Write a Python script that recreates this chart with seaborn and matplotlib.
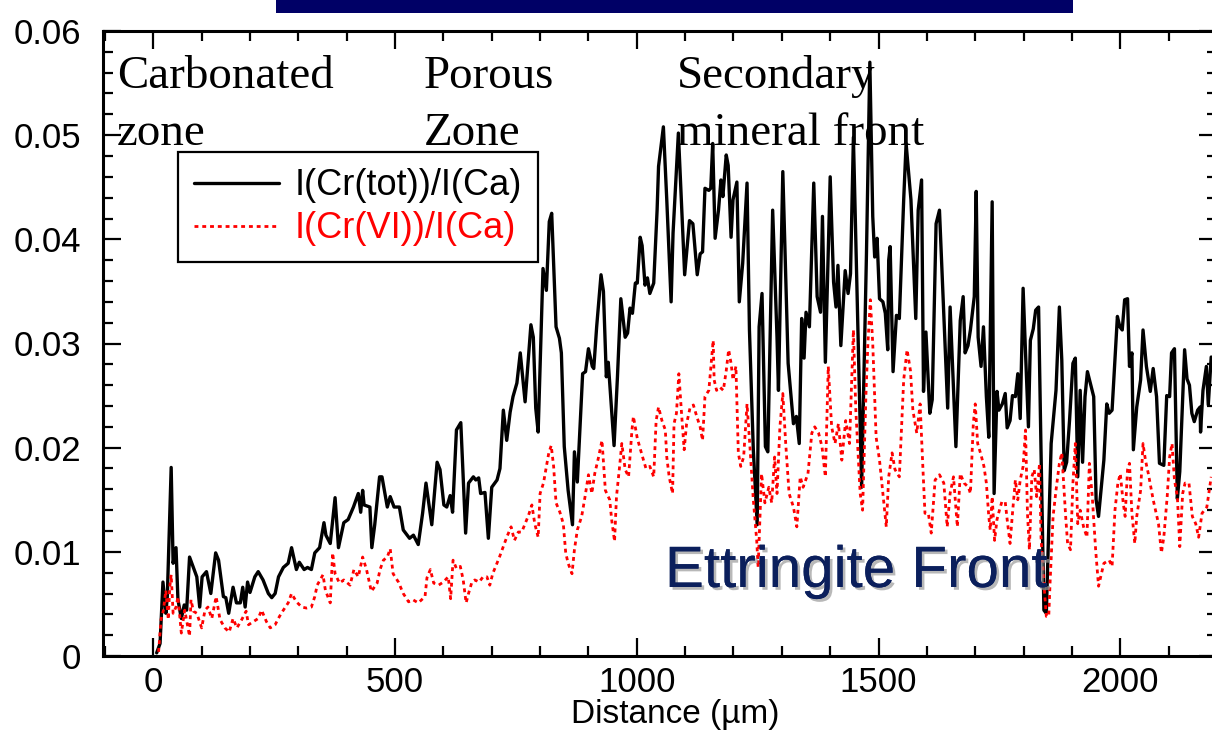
import matplotlib
matplotlib.use("Agg")
import matplotlib.pyplot as plt
import matplotlib.patheffects as pe
from matplotlib.patches import Rectangle
from matplotlib.ticker import MultipleLocator, FuncFormatter
import seaborn as sns
import pandas as pd

# ---------------- data ----------------
cr_tot_x = [7, 14, 20, 26, 29, 37, 41, 47, 51, 58, 64, 69, 75, 83, 90, 96, 101, 110,
            119, 129, 135, 145, 150, 156, 165, 172, 180, 185, 190, 195, 200, 210, 217, 227,
            238, 245, 252, 259, 269, 279, 286, 296, 302, 312, 319, 327, 334, 344,
            353, 357, 366, 376, 383, 394, 403, 414, 424, 429, 433, 436, 448, 452, 458,
            468, 473, 484, 490, 498, 509, 517, 530, 538, 548, 557, 564, 576, 587,
            593, 601, 607, 614, 619, 627, 636, 646, 652, 662, 667, 673, 677, 686, 693, 700,
            711, 717, 724, 731, 738, 744, 752, 759, 769, 781, 786, 791, 796, 806, 809,
            813, 819, 824, 833, 840, 844, 850, 858, 867, 871, 877, 888, 894, 900, 908, 911,
            917, 926, 931, 937, 941, 953, 960, 967, 976, 981, 986, 991, 997, 1001, 1007, 1011,
            1017, 1022, 1027, 1035, 1042, 1045, 1055, 1062, 1071, 1075, 1086, 1099, 1109, 1116,
            1125, 1131, 1136, 1141, 1149, 1153, 1157, 1162, 1169, 1174, 1178, 1185, 1189, 1195,
            1199, 1207, 1212, 1219, 1228, 1233, 1241, 1249, 1253, 1259, 1266, 1271, 1281, 1290,
            1293, 1302, 1313, 1324, 1330, 1336, 1341, 1346, 1350, 1357, 1366, 1373, 1380, 1384,
            1390, 1400, 1407, 1412, 1416, 1422, 1431, 1437, 1442, 1448, 1465, 1475, 1482, 1488,
            1492, 1497, 1502, 1509, 1514, 1519, 1521, 1524, 1530, 1537, 1543, 1552, 1557, 1567,
            1577, 1582, 1589, 1593, 1598, 1606, 1611, 1619, 1626, 1643, 1648, 1660, 1669, 1675,
            1679, 1685, 1690, 1698, 1702, 1706, 1712, 1717, 1723, 1728, 1735, 1739, 1745, 1749,
            1756, 1762, 1766, 1772, 1777, 1783, 1788, 1793, 1799, 1804, 1810, 1814, 1820, 1825,
            1831, 1836, 1842, 1847, 1857, 1867, 1874, 1879, 1884, 1889, 1895, 1902, 1907, 1912,
            1917, 1922, 1927, 1932, 1945, 1950, 1955, 1966, 1972, 1977, 1983, 1994, 1999, 2004,
            2009, 2015, 2019, 2024, 2027, 2034, 2042, 2047, 2054, 2062, 2068, 2075, 2081, 2090,
            2096, 2102, 2106, 2112, 2118, 2123, 2133, 2138, 2143, 2148, 2153, 2160, 2165, 2166,
            2171, 2178, 2182, 2188]
cr_tot_y = [0.0003, 0.0012, 0.0071, 0.0041, 0.0057, 0.0181, 0.0089, 0.0104, 0.0054, 0.0036,
            0.0049, 0.0044, 0.0095, 0.0085, 0.0076, 0.0047, 0.0076, 0.0081,
            0.0060, 0.0099, 0.0092, 0.0057, 0.0056, 0.0041, 0.0066, 0.0051, 0.0051, 0.0066,
            0.0047, 0.0071, 0.0061, 0.0076, 0.0081, 0.0073,
            0.0060, 0.0056, 0.0060, 0.0076, 0.0085, 0.0089, 0.0104, 0.0083, 0.0090, 0.0083,
            0.0085, 0.0083, 0.0099, 0.0104,
            0.0128, 0.0116, 0.0108, 0.0152, 0.0104, 0.0128, 0.0131, 0.0143, 0.0156, 0.0138,
            0.0159, 0.0145, 0.0143, 0.0104, 0.0126,
            0.0172, 0.0172, 0.0143, 0.0153, 0.0143, 0.0143, 0.0121, 0.0113, 0.0116, 0.0107,
            0.0137, 0.0166, 0.0126, 0.0186,
            0.0179, 0.0145, 0.0143, 0.0154, 0.0138, 0.0217, 0.0224, 0.0118, 0.0166, 0.0172,
            0.0169, 0.0171, 0.0156, 0.0157, 0.0113, 0.0162,
            0.0169, 0.0180, 0.0236, 0.0207, 0.0234, 0.0249, 0.0262, 0.0291, 0.0244, 0.0318,
            0.0306, 0.0238, 0.0215, 0.0372, 0.0363,
            0.0351, 0.0417, 0.0425, 0.0316, 0.0305, 0.0291, 0.0201, 0.0159, 0.0126, 0.0196,
            0.0167, 0.0271, 0.0273, 0.0295, 0.0278, 0.0276,
            0.0316, 0.0366, 0.0350, 0.0268, 0.0282, 0.0202, 0.0268, 0.0343, 0.0306, 0.0310,
            0.0334, 0.0329, 0.0358, 0.0358, 0.0402, 0.0394,
            0.0356, 0.0363, 0.0348, 0.0358, 0.0428, 0.0470, 0.0508, 0.0438, 0.0340, 0.0406,
            0.0502, 0.0366, 0.0418, 0.0415,
            0.0366, 0.0386, 0.0388, 0.0449, 0.0447, 0.0449, 0.0492, 0.0401, 0.0428, 0.0457,
            0.0441, 0.0481, 0.0471, 0.0402,
            0.0438, 0.0455, 0.0340, 0.0377, 0.0454, 0.0313, 0.0198, 0.0126, 0.0316, 0.0348,
            0.0201, 0.0196, 0.0428, 0.0306,
            0.0255, 0.0465, 0.0281, 0.0223, 0.0230, 0.0204, 0.0324, 0.0286, 0.0330, 0.0316,
            0.0454, 0.0345, 0.0330, 0.0422,
            0.0282, 0.0460, 0.0359, 0.0335, 0.0375, 0.0298, 0.0370, 0.0348, 0.0367, 0.0498,
            0.0162, 0.0386, 0.0570, 0.0422,
            0.0383, 0.0401, 0.0343, 0.0340, 0.0329, 0.0294, 0.0380, 0.0393, 0.0273, 0.0327,
            0.0324, 0.0438, 0.0492, 0.0438,
            0.0324, 0.0428, 0.0457, 0.0254, 0.0311, 0.0233, 0.0246, 0.0415, 0.0428, 0.0238,
            0.0335, 0.0201, 0.0322, 0.0345,
            0.0291, 0.0298, 0.0313, 0.0345, 0.0446, 0.0306, 0.0278, 0.0316, 0.0249, 0.0210,
            0.0436, 0.0156, 0.0254, 0.0236,
            0.0242, 0.0252, 0.0219, 0.0226, 0.0250, 0.0249, 0.0271, 0.0228, 0.0353, 0.0291,
            0.0220, 0.0303, 0.0314, 0.0332,
            0.0335, 0.0198, 0.0044, 0.0041, 0.0204, 0.0255, 0.0335, 0.0284, 0.0178, 0.0186,
            0.0226, 0.0281, 0.0286, 0.0172,
            0.0255, 0.0186, 0.0249, 0.0273, 0.0249, 0.0150, 0.0134, 0.0188, 0.0242, 0.0233,
            0.0236, 0.0326, 0.0316, 0.0313,
            0.0342, 0.0343, 0.0278, 0.0291, 0.0198, 0.0239, 0.0265, 0.0313, 0.0278, 0.0254,
            0.0276, 0.0249, 0.0185, 0.0183,
            0.0250, 0.0249, 0.0291, 0.0295, 0.0151, 0.0177, 0.0294, 0.0266, 0.0260, 0.0233,
            0.0225, 0.0236, 0.0239, 0.0215,
            0.0255, 0.0278, 0.0241, 0.0287]

cr_vi_x = [11, 16, 21, 26, 31, 34, 37, 41, 47, 51, 58, 65, 75, 78, 83, 90, 100, 107, 113,
           121, 130, 138, 148, 157, 165, 173, 183, 192, 197, 207, 217, 224, 234, 242, 252,
           261, 269, 279, 286, 296, 307, 317, 327, 334, 339, 351, 356, 366, 371, 376, 385,
           394, 407, 415, 424, 433, 441, 451, 463, 469, 476, 484, 490, 496, 507, 517, 528,
           537, 548, 562, 566, 573, 580, 590, 600, 610, 615, 620, 627, 635, 641, 647, 652,
           659, 665, 674, 682, 690, 696, 702, 709, 716, 724, 731, 740, 747, 755, 762, 776,
           783, 789, 796, 800, 807, 818, 823, 828, 833, 841, 848, 853, 858, 866, 871, 877,
           886, 893, 900, 907, 913, 921, 928, 935, 944, 948, 954, 958, 964, 969, 976, 983,
           990, 993, 1001, 1012, 1019, 1027, 1035, 1040, 1045, 1052, 1059, 1062, 1067, 1074,
           1077, 1082, 1087, 1093, 1098, 1103, 1110, 1117, 1124, 1131, 1136, 1141, 1149, 1158,
           1160, 1165, 1172, 1179, 1185, 1190, 1195, 1199, 1205, 1210, 1215, 1221, 1228, 1234,
           1241, 1248, 1251, 1258, 1265, 1273, 1279, 1285, 1290, 1296, 1302, 1308, 1315, 1324,
           1331, 1338, 1344, 1354, 1362, 1368, 1376, 1383, 1390, 1396, 1403, 1410, 1417, 1424,
           1432, 1440, 1448, 1453, 1462, 1467, 1474, 1478, 1483, 1488, 1495, 1502, 1509, 1516,
           1521, 1528, 1534, 1543, 1552, 1559, 1566, 1571, 1579, 1586, 1591, 1596, 1603, 1609,
           1617, 1626, 1635, 1642, 1648, 1655, 1663, 1669, 1677, 1686, 1690, 1696, 1700, 1705,
           1712, 1718, 1723, 1728, 1731, 1735, 1740, 1745, 1750, 1755, 1762, 1766, 1772, 1777,
           1783, 1788, 1793, 1799, 1804, 1808, 1812, 1817, 1822, 1827, 1833, 1836, 1842, 1847,
           1852, 1855, 1861, 1867, 1874, 1879, 1887, 1891, 1897, 1902, 1907, 1912, 1917, 1924,
           1931, 1936, 1942, 1949, 1955, 1966, 1977, 1983, 1989, 1995, 2000, 2006, 2010, 2015,
           2019, 2024, 2030, 2034, 2042, 2047, 2052, 2058, 2068, 2079, 2085, 2090, 2097, 2102,
           2107, 2112, 2118, 2123, 2129, 2134, 2142, 2149, 2156, 2162, 2169, 2179, 2188]
cr_vi_y = [0.0004, 0.0035, 0.0044, 0.0063, 0.0035, 0.0066, 0.0078, 0.0041, 0.0047, 0.0057,
           0.0022, 0.0044, 0.0019, 0.0054, 0.0043, 0.0041, 0.0027, 0.0044, 0.0047,
           0.0036, 0.0057, 0.0035, 0.0027, 0.0023, 0.0036, 0.0027, 0.0035, 0.0043, 0.0030,
           0.0033, 0.0036, 0.0044, 0.0033, 0.0027, 0.0030,
           0.0038, 0.0044, 0.0051, 0.0060, 0.0052, 0.0047, 0.0046, 0.0047, 0.0057, 0.0068,
           0.0078, 0.0063, 0.0051, 0.0099, 0.0079, 0.0070,
           0.0073, 0.0068, 0.0083, 0.0076, 0.0095, 0.0083, 0.0062, 0.0070, 0.0083, 0.0092,
           0.0095, 0.0103, 0.0079, 0.0071, 0.0060, 0.0052,
           0.0054, 0.0051, 0.0057, 0.0075, 0.0083, 0.0070, 0.0068, 0.0071, 0.0076, 0.0055,
           0.0092, 0.0084, 0.0086, 0.0073, 0.0051, 0.0060,
           0.0071, 0.0073, 0.0071, 0.0076, 0.0076, 0.0068, 0.0079, 0.0087, 0.0095, 0.0105,
           0.0114, 0.0124, 0.0111, 0.0119, 0.0119, 0.0135,
           0.0145, 0.0127, 0.0114, 0.0156, 0.0166, 0.0195, 0.0202, 0.0182, 0.0147, 0.0138,
           0.0127, 0.0099, 0.0089, 0.0079, 0.0102, 0.0121,
           0.0134, 0.0153, 0.0174, 0.0156, 0.0175, 0.0191, 0.0207, 0.0159, 0.0150, 0.0131,
           0.0110, 0.0153, 0.0180, 0.0204, 0.0179, 0.0172,
           0.0217, 0.0230, 0.0209, 0.0191, 0.0180, 0.0182, 0.0172, 0.0226, 0.0239, 0.0226,
           0.0217, 0.0191, 0.0172, 0.0156,
           0.0223, 0.0233, 0.0271, 0.0230, 0.0198, 0.0223, 0.0238, 0.0241, 0.0230, 0.0220,
           0.0207, 0.0249, 0.0255, 0.0303,
           0.0265, 0.0255, 0.0258, 0.0255, 0.0274, 0.0294, 0.0281, 0.0265, 0.0278, 0.0195,
           0.0182, 0.0191, 0.0242, 0.0201,
           0.0150, 0.0111, 0.0085, 0.0175, 0.0147, 0.0162, 0.0147, 0.0191, 0.0156, 0.0220,
           0.0252, 0.0204, 0.0156, 0.0143,
           0.0124, 0.0172, 0.0162, 0.0175, 0.0214, 0.0220, 0.0214, 0.0201, 0.0172, 0.0278,
           0.0220, 0.0204, 0.0223, 0.0188,
           0.0226, 0.0204, 0.0313, 0.0236, 0.0156, 0.0140, 0.0252, 0.0300, 0.0342, 0.0300,
           0.0210, 0.0188, 0.0156, 0.0124,
           0.0172, 0.0195, 0.0179, 0.0172, 0.0265, 0.0294, 0.0274, 0.0236, 0.0214, 0.0242,
           0.0188, 0.0137, 0.0137, 0.0118,
           0.0169, 0.0174, 0.0166, 0.0124, 0.0156, 0.0172, 0.0124, 0.0175, 0.0166, 0.0162,
           0.0156, 0.0223, 0.0242, 0.0204,
           0.0193, 0.0182, 0.0166, 0.0134, 0.0121, 0.0153, 0.0111, 0.0131, 0.0140, 0.0148,
           0.0148, 0.0131, 0.0108, 0.0137,
           0.0169, 0.0150, 0.0169, 0.0182, 0.0217, 0.0137, 0.0102, 0.0172, 0.0179, 0.0153,
           0.0185, 0.0114, 0.0070, 0.0038,
           0.0038, 0.0073, 0.0134, 0.0159, 0.0185, 0.0195, 0.0134, 0.0108, 0.0102, 0.0166,
           0.0204, 0.0127, 0.0140, 0.0124,
           0.0114, 0.0185, 0.0153, 0.0102, 0.0067, 0.0089, 0.0092, 0.0086, 0.0140, 0.0166,
           0.0175, 0.0147, 0.0134, 0.0179,
           0.0185, 0.0137, 0.0108, 0.0134, 0.0159, 0.0204, 0.0188, 0.0175, 0.0150, 0.0127,
           0.0099, 0.0114, 0.0153, 0.0191,
           0.0204, 0.0169, 0.0153, 0.0105, 0.0156, 0.0166, 0.0166, 0.0134, 0.0127, 0.0114,
           0.0137, 0.0143, 0.0172]

series_labels = ["I(Cr(tot))/I(Ca)", "I(Cr(VI))/I(Ca)"]
zone_labels = [("Carbonated", "zone"), ("Porous", "Zone"), ("Secondary", "mineral front")]
x_ticks = [0, 500, 1000, 1500, 2000]
y_ticks = [0, 0.01, 0.02, 0.03, 0.04, 0.05, 0.06]

# ---------------- style ----------------
sns.set_style("ticks")
plt.rcParams["font.family"] = ["Liberation Sans", "DejaVu Sans"]

W, H = 1212, 731
fig = plt.figure(figsize=(W / 100, H / 100), dpi=100)
ax = fig.add_axes([103 / W, 1 - 656 / H, (1217 - 103) / W, 625 / H])

df_tot = pd.DataFrame({"distance": cr_tot_x, "ratio": cr_tot_y})
df_vi = pd.DataFrame({"distance": cr_vi_x, "ratio": cr_vi_y})

sns.lineplot(data=df_tot, x="distance", y="ratio", ax=ax, color="black",
             linewidth=2.4, estimator=None, sort=False, zorder=3)
sns.lineplot(data=df_vi, x="distance", y="ratio", ax=ax, color="#ff0000",
             linewidth=2.0, estimator=None, sort=False, zorder=4)
line_tot, line_vi = ax.get_lines()[0], ax.get_lines()[1]
line_vi.set_dashes((1.4, 1.4))

ax.set_xlim(-104, 2200)
ax.set_ylim(0, 0.06)
ax.set_xticks(x_ticks)
ax.set_yticks(y_ticks)
ax.xaxis.set_minor_locator(MultipleLocator(100))
ax.yaxis.set_minor_locator(MultipleLocator(0.002))
ax.yaxis.set_major_formatter(FuncFormatter(lambda v, p: "0" if abs(v) < 1e-12 else f"{v:.2f}"))
ax.tick_params(which="both", direction="in", top=True, right=True, width=1.6,
               color="black", labelsize=25, labelcolor="black")
ax.tick_params(axis="x", which="major", pad=7)
ax.tick_params(axis="y", which="major", pad=16)
ax.tick_params(which="major", length=13)
ax.tick_params(which="minor", length=7)
for s in ax.spines.values():
    s.set_linewidth(2.2)
    s.set_color("black")

ax.set_ylabel("")
ax.set_xlabel("Distance (µm)", fontsize=24, color="black")
ax.xaxis.set_label_coords((675 - 103) / (1217 - 103), (656 - 699.5) / 625)

# legend
leg = ax.legend([line_tot, line_vi], series_labels, loc="upper left",
                bbox_to_anchor=(178 / W, 1 - 152 / H), bbox_transform=fig.transFigure,
                fontsize=26, frameon=True, fancybox=False, framealpha=1,
                edgecolor="black", borderpad=0.45, handlelength=2.36,
                handletextpad=0.42, labelspacing=0.22, borderaxespad=0)
leg.get_frame().set_linewidth(1.6)
leg.get_texts()[0].set_color("black")
leg.get_texts()[1].set_color("#ff0000")
leg.set_zorder(6)

# zone annotations (serif)
serif = ["Liberation Serif", "DejaVu Serif"]
xs = [117, 424, 677]
for (l1, l2), px in zip(zone_labels, xs):
    fx = (px - 103) / (1217 - 103)
    ax.text(fx, (656 - 88) / 625, l1, transform=ax.transAxes, family=serif,
            fontsize=33.8, ha="left", va="baseline", color="black", zorder=2)
    ax.text(fx, (656 - 145) / 625, l2, transform=ax.transAxes, family=serif,
            fontsize=33.8, ha="left", va="baseline", color="black", zorder=2)

# Ettringite front label with shadow
ax.text((665 - 103) / (1217 - 103), (656 - 587) / 625, "Ettringite Front",
        transform=ax.transAxes, fontsize=42, color="#0b1f5c", ha="left",
        va="baseline", zorder=5,
        path_effects=[pe.withSimplePatchShadow(offset=(2, -2), shadow_rgbFace="#9a9a9a", alpha=0.7),
                      pe.Normal()])

# banner at the top
fig.patches.append(Rectangle((276 / W, 1 - 13 / H), (1073 - 276) / W, 13 / H,
                             transform=fig.transFigure, facecolor="#000066",
                             edgecolor="none", zorder=10))

fig.savefig("out.png", dpi=100)
